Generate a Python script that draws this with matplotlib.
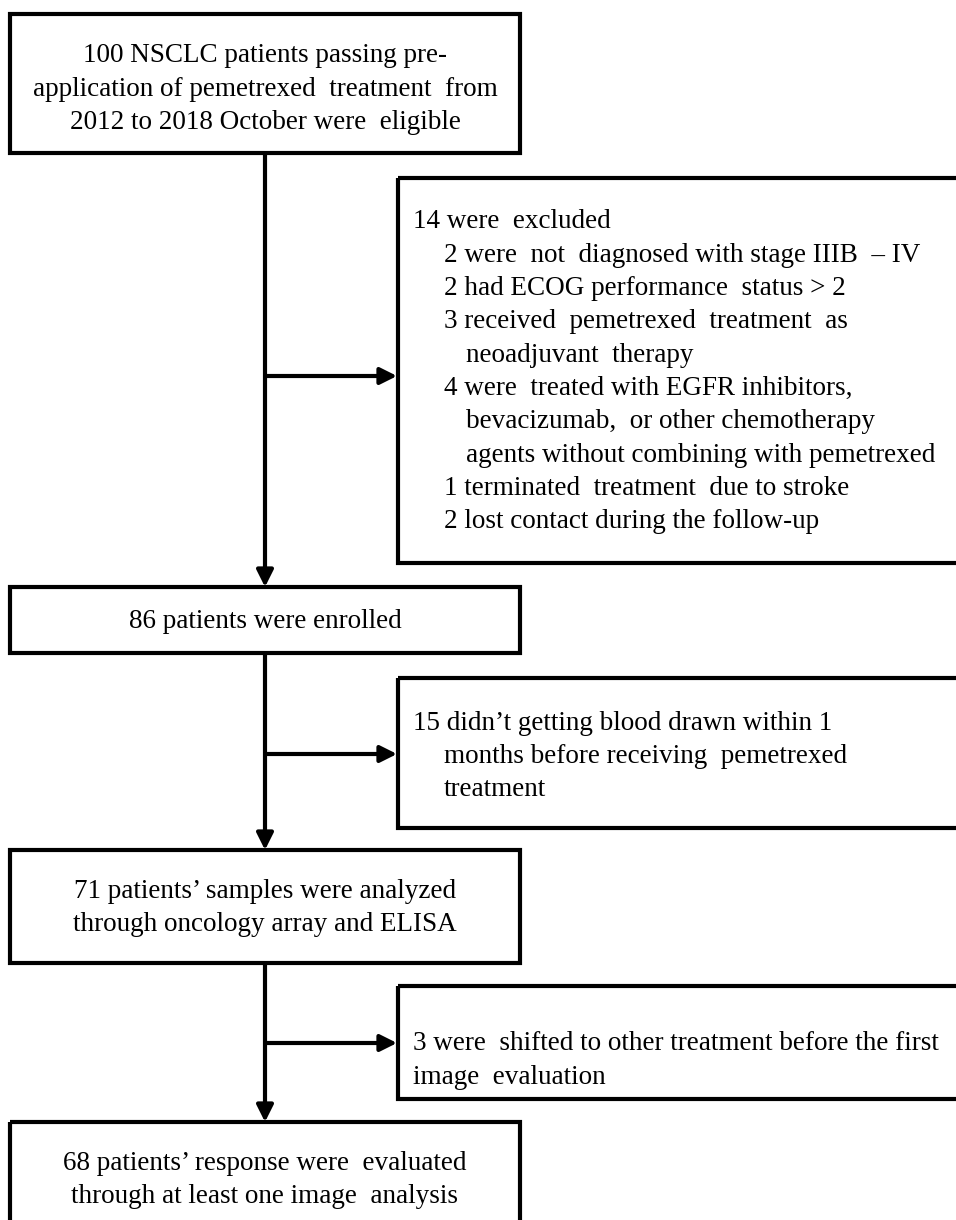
import matplotlib.pyplot as plt
from matplotlib.patches import Rectangle

plt.rcParams['font.family'] = ['Liberation Serif', 'DejaVu Serif']

# flow boxes (main column) and exclusion boxes (right column)
main_texts = [
    ['100 NSCLC patients passing pre-',
     'application of pemetrexed  treatment  from',
     '2012 to 2018 October were  eligible'],
    ['86 patients were enrolled'],
    ['71 patients\u2019 samples were analyzed',
     'through oncology array and ELISA'],
    ['68 patients\u2019 response were  evaluated',
     'through at least one image  analysis'],
]

# (text, indent level)
side_texts = [
    [('14 were  excluded', 0),
     ('2 were  not  diagnosed with stage IIIB  \u2013 IV', 1),
     ('2 had ECOG performance  status > 2', 1),
     ('3 received  pemetrexed  treatment  as', 1),
     ('neoadjuvant  therapy', 2),
     ('4 were  treated with EGFR inhibitors,', 1),
     ('bevacizumab,  or other chemotherapy', 2),
     ('agents without combining with pemetrexed', 2),
     ('1 terminated  treatment  due to stroke', 1),
     ('2 lost contact during the follow-up', 1)],
    [('15 didn\u2019t getting blood drawn within 1', 0),
     ('months before receiving  pemetrexed', 1),
     ('treatment', 1)],
    [('3 were  shifted to other treatment before the first', 0),
     ('image  evaluation', 0)],
]

# layout in pixels
W, H = 956, 1220
main_x0, main_x1 = 10, 520
main_y = [(14, 153), (587, 653), (850, 963), (1122, 1240)]
main_text_y = [89, 622, 908, 1180]
side_x0, side_x1 = 398, 1000
side_y = [(178, 563), (678, 828), (986, 1099)]
side_text_y0 = [222, 723, 1044]
arrow_y = [376, 754, 1043]
indent_x = [413, 444, 466]
line_gap = 33.3
fs = 19.5
lw = 3.0
cx = (main_x0 + main_x1) / 2

fig = plt.figure(figsize=(W / 100, H / 100), dpi=100)
ax = fig.add_axes([0, 0, 1, 1])
ax.set_xlim(0, W)
ax.set_ylim(H, 0)
ax.axis('off')

for (y0, y1), lines, ty in zip(main_y, main_texts, main_text_y):
    ax.add_patch(Rectangle((main_x0, y0), main_x1 - main_x0, y1 - y0,
                           fill=False, lw=lw, ec='black'))
    n = len(lines)
    for i, s in enumerate(lines):
        ax.text(cx, ty + (i - (n - 1) / 2) * line_gap, s, ha='center',
                va='center', fontsize=fs)

for (y0, y1), lines, ty in zip(side_y, side_texts, side_text_y0):
    ax.add_patch(Rectangle((side_x0, y0), side_x1 - side_x0, y1 - y0,
                           fill=False, lw=lw, ec='black', clip_on=True))
    for i, (s, lev) in enumerate(lines):
        ax.text(indent_x[lev], ty + i * line_gap, s, ha='left',
                va='center', fontsize=fs)

arrow = dict(arrowstyle='-|>', lw=lw, color='black', mutation_scale=25,
             shrinkA=0, shrinkB=0)
for k in range(3):
    ax.annotate('', xy=(cx, main_y[k + 1][0]), xytext=(cx, main_y[k][1]),
                arrowprops=arrow)
    ax.annotate('', xy=(side_x0 - 1, arrow_y[k]), xytext=(cx, arrow_y[k]),
                arrowprops=arrow)

fig.savefig('out.png', dpi=100, facecolor='white')
